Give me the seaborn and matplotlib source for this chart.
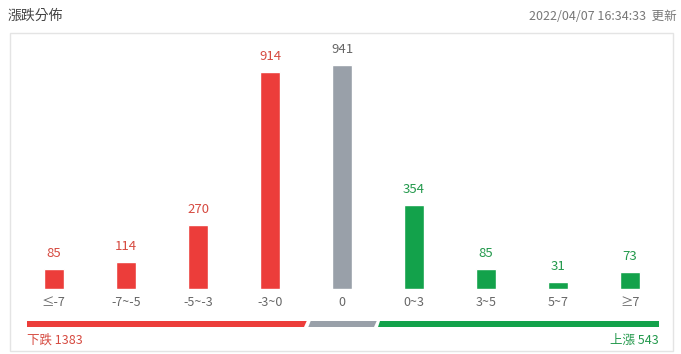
import matplotlib
matplotlib.use("Agg")
import matplotlib.pyplot as plt
from matplotlib.patches import Polygon, Rectangle
import seaborn as sns
import pandas as pd

categories = ["≤-7", "-7~-5", "-5~-3", "-3~0", "0", "0~3", "3~5", "5~7", "≥7"]
counts = [85, 114, 270, 914, 941, 354, 85, 31, 73]
groups = ["down", "down", "down", "down", "flat", "up", "up", "up", "up"]
title = "漲跌分佈"
timestamp = "2022/04/07 16:34:33  更新"
down_total = sum(c for c, g in zip(counts, groups) if g == "down")
up_total = sum(c for c, g in zip(counts, groups) if g == "up")

bar_colors = {"down": "#ec3d3a", "flat": "#99a0a9", "up": "#13a24b"}
text_colors = {"down": "#d64a40", "flat": "#666666", "up": "#23994c"}

sns.set_theme(style="white")
plt.rcParams["font.family"] = ["Noto Sans CJK TC", "DejaVu Sans"]

W, H = 681, 354
fig = plt.figure(figsize=(W / 100, H / 100), dpi=100)
fig.patch.set_facecolor("white")

def fx(px):
    return px / W

def fy(py):
    return 1 - py / H

# panel border
fig.patches.append(Rectangle((fx(9.5), fy(350.5)), fx(663), (350.5 - 32.5) / H,
                             transform=fig.transFigure, fill=False,
                             edgecolor="#e4e4e4", linewidth=1))

ax = fig.add_axes([fx(10), fy(289), fx(662), (289 - 33) / H])
df = pd.DataFrame({"cat": categories, "count": counts, "grp": groups})
sns.barplot(data=df, x="cat", y="count", hue="grp", palette=bar_colors,
            order=categories, dodge=False, width=0.278, legend=False,
            saturation=1, ax=ax)
ax.set_xlim(-0.611, 8.583)
ax.set_ylim(0, 1076)
ax.set_xlabel("")
ax.set_ylabel("")
ax.set_yticks([])
for s in ax.spines.values():
    s.set_visible(False)
ax.tick_params(axis="x", length=0, pad=5, labelsize=9, labelcolor="#666666")
ax.patch.set_alpha(0)

for i, (c, g) in enumerate(zip(counts, groups)):
    ax.annotate(str(c), (i, c), xytext=(0, 11), textcoords="offset points",
                ha="center", va="center", fontsize=9.5, color=text_colors[g])

# header
fig.text(fx(8), fy(16), title, fontsize=10, color="#444444", va="center", ha="left")
fig.text(fx(677), fy(16), timestamp, fontsize=9, color="#777777", va="center", ha="right")

# summary bar
y0, y1 = fy(327), fy(321)
segs = [
    ([27, 304, 306.7, 27], bar_colors["down"]),
    ([308.3, 374, 376.7, 310.7], bar_colors["flat"]),
    ([377.7, 659, 659, 380], bar_colors["up"]),
]
for xs, col in segs:
    pts = [(fx(xs[0]), y0), (fx(xs[1]), y0), (fx(xs[2]), y1), (fx(xs[3]), y1)]
    fig.patches.append(Polygon(pts, closed=True, transform=fig.transFigure,
                               facecolor=col, edgecolor="none"))

fig.text(fx(27), fy(340), f"下跌 {down_total}", fontsize=9, color=text_colors["down"],
         va="center", ha="left")
fig.text(fx(659), fy(340), f"上漲 {up_total}", fontsize=9, color=text_colors["up"],
         va="center", ha="right")

fig.savefig("out.png", dpi=100, facecolor="white")
